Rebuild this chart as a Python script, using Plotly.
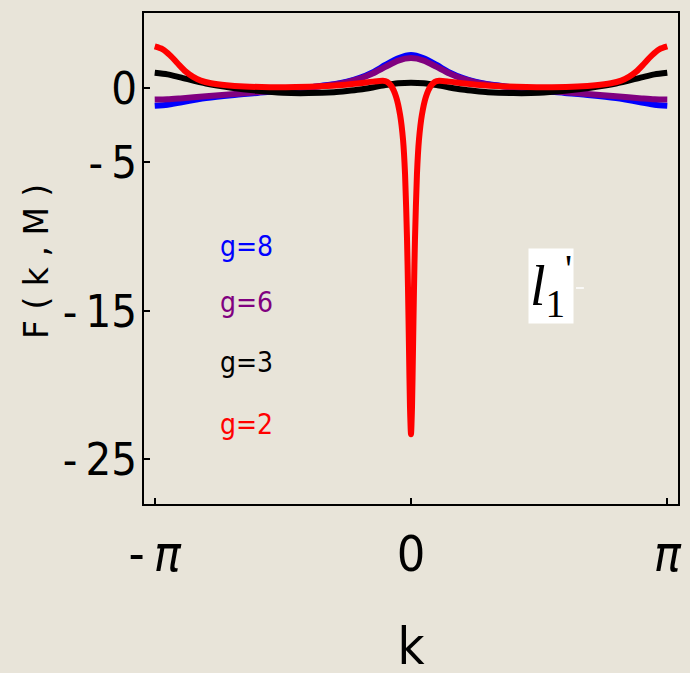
import numpy as np
import plotly.graph_objects as go

# k values in units of pi
K_BLUE = [-1.0, -0.95, -0.9, -0.8, -0.7, -0.6, -0.5, -0.4, -0.3, -0.25, -0.2, -0.15, -0.1, -0.05, 0.0,
          0.05, 0.1, 0.15, 0.2, 0.25, 0.3, 0.4, 0.5, 0.6, 0.7, 0.8, 0.9, 0.95, 1.0]
F_G8 = [-1.2, -1.13, -0.97, -0.68, -0.48, -0.33, -0.18, 0.04, 0.25, 0.42, 0.68, 1.05, 1.55, 2.0, 2.22,
        2.0, 1.55, 1.05, 0.68, 0.42, 0.25, 0.04, -0.18, -0.33, -0.48, -0.68, -0.97, -1.13, -1.2]
F_G6 = [-0.78, -0.76, -0.7, -0.56, -0.42, -0.28, -0.15, 0.03, 0.24, 0.4, 0.63, 0.98, 1.42, 1.85, 2.02,
        1.85, 1.42, 0.98, 0.63, 0.4, 0.24, 0.03, -0.15, -0.28, -0.42, -0.56, -0.7, -0.76, -0.78]
F_G3 = [1.03, 0.92, 0.72, 0.3, 0.02, -0.18, -0.32, -0.34, -0.28, -0.2, -0.1, 0.04, 0.2, 0.32, 0.36,
        0.32, 0.2, 0.04, -0.1, -0.2, -0.28, -0.34, -0.32, -0.18, 0.02, 0.3, 0.72, 0.92, 1.03]

K_RED = [-1.0, -0.97, -0.94, -0.91, -0.88, -0.85, -0.82, -0.78, -0.72, -0.65, -0.55, -0.45, -0.35, -0.27,
         -0.2, -0.15, -0.11, -0.093, -0.0774, -0.058, -0.0426, -0.031, -0.0232, -0.0155, -0.0116,
         -0.0077, -0.0039, 0.0,
         0.0039, 0.0077, 0.0116, 0.0155, 0.0232, 0.031, 0.0426, 0.058, 0.0774, 0.093, 0.11, 0.15, 0.2,
         0.27, 0.35, 0.45, 0.55, 0.65, 0.72, 0.78, 0.82, 0.85, 0.88, 0.91, 0.94, 0.97, 1.0]
F_G2 = [2.8, 2.62, 2.2, 1.65, 1.12, 0.75, 0.5, 0.32, 0.18, 0.1, 0.06, 0.07, 0.12, 0.2,
        0.32, 0.43, 0.49, 0.42, 0.15, -0.6, -1.8, -3.5, -5.8, -10.2, -13.6,
        -17.7, -21.5, -23.3,
        -21.5, -17.7, -13.6, -10.2, -5.8, -3.5, -1.8, -0.6, 0.15, 0.42, 0.49, 0.43, 0.32,
        0.2, 0.12, 0.07, 0.06, 0.1, 0.18, 0.32, 0.5, 0.75, 1.12, 1.65, 2.2, 2.62, 2.8]

SERIES = [("g=8", K_BLUE, F_G8, "#0000ff"),
          ("g=6", K_BLUE, F_G6, "#800080"),
          ("g=3", K_BLUE, F_G3, "#000000"),
          ("g=2", K_RED, F_G2, "#ff0000")]

X_TICKS = [-np.pi, 0, np.pi]
X_TICKTEXT = ["-\u2009<i>π</i>", "0", "<i>π</i>"]
Y_TICKS = [0, -5, -15, -25]
Y_TICKTEXT = ["0", "-\u20095", "-\u200915", "-\u200925"]

NARROW = "Liberation Sans Narrow, DejaVu Sans"
BG = "#e8e4d9"
W, H = 690, 673
L, R, T, B = 144, 7, 13, 169

def px(xp, yp):
    return (xp - L) / (W - L - R), (H - B - yp) / (H - T - B)

fig = go.Figure()
for name, k, f, c in SERIES:
    fig.add_trace(go.Scatter(x=np.array(k) * np.pi, y=f, mode="lines", name=name,
                             line=dict(color=c, width=6, shape="spline", smoothing=0.7),
                             showlegend=False))

fig.update_layout(
    width=W, height=H, margin=dict(l=L, r=R, t=T, b=B),
    paper_bgcolor=BG, plot_bgcolor=BG,
    font=dict(family=NARROW, color="black"),
)
fig.update_xaxes(range=[-3.273, 3.273], tickvals=X_TICKS, ticktext=X_TICKTEXT,
                 ticks="inside", ticklen=6, tickwidth=1.5, tickcolor="black",
                 showline=True, linewidth=2, linecolor="black", mirror=True,
                 showgrid=False, zeroline=False, ticklabelstandoff=5,
                 tickfont=dict(size=50, family=NARROW))
fig.update_yaxes(range=[-28.0, 5.05], tickvals=Y_TICKS, ticktext=Y_TICKTEXT,
                 ticks="inside", ticklen=6, tickwidth=1.5, tickcolor="black",
                 showline=True, linewidth=2, linecolor="black", mirror=True,
                 showgrid=False, zeroline=False, ticklabelstandoff=-4,
                 tickfont=dict(size=45, family=NARROW))

annots = []
# axis titles
x, y = px(413, 646)
annots.append(dict(x=x, y=y, xref="paper", yref="paper", text="k", showarrow=False,
                   font=dict(size=52, family=NARROW), xanchor="center", yanchor="middle",
                   height=50))
x, y = px(35, 262)
annots.append(dict(x=x, y=y, xref="paper", yref="paper", text="F ( k , M )", showarrow=False,
                   textangle=-90, font=dict(size=33, family="DejaVu Sans"), xanchor="center", yanchor="middle"))
# in-plot labels
for (name, _, _, c), yp in zip(SERIES, [246, 302, 362, 424]):
    x, y = px(247, yp)
    annots.append(dict(x=x, y=y, xref="paper", yref="paper", text=name, showarrow=False,
                       font=dict(size=28, family=NARROW, color=c),
                       xanchor="center", yanchor="middle"))
x, y = px(555, 286)
annots.append(dict(x=x, y=y, xref="paper", yref="paper",
                   text="<i>l</i><sub>1</sub><sup>'</sup>", showarrow=False,
                   font=dict(size=56, family="Liberation Serif", color="black"),
                   bgcolor="white", width=42, height=72, xanchor="center", yanchor="middle"))
fig.update_layout(annotations=annots)

x0, y0 = px(580, 288)
x1, y1 = px(588, 288)
fig.add_shape(type="line", xref="paper", yref="paper", x0=x0, y0=y0, x1=x1, y1=y1,
              line=dict(color="white", width=1.5))

post = """
document.body.style.margin='0';
document.body.style.background='%s';
function condense(){
  document.querySelectorAll('svg text').forEach(function(t){
    var ff = t.style.fontFamily || '';
    if (ff.indexOf('Narrow') >= 0) { t.style.fontFamily = 'DejaVu Sans'; t.style.fontStretch = 'condensed'; }
  });
}
condense();
""" % BG

fig.write_html("out.html", post_script=post, config={"displayModeBar": False})
